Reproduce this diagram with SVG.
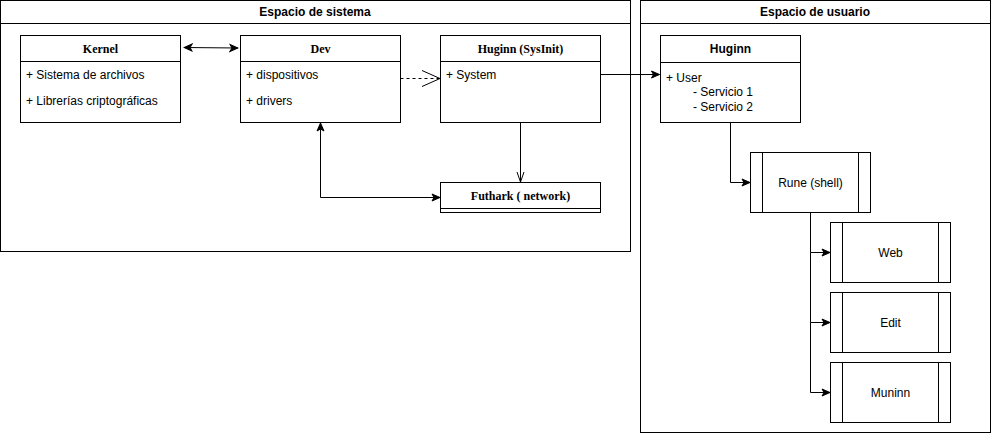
<svg xmlns="http://www.w3.org/2000/svg" width="991" height="433" viewBox="0 0 991 433">
<style>
.box{fill:#fff;stroke:#000;stroke-width:1}
.ln{fill:none;stroke:#000;stroke-width:1}
.t{font-family:"Liberation Sans",Arial,sans-serif;font-size:12px;fill:#000}
.b{font-weight:bold}
.s{font-family:"Liberation Serif","Times New Roman",serif;font-size:12px;font-weight:bold;fill:#000}
.c{text-anchor:middle}
.e{fill:none;stroke:#000;stroke-width:1}
</style>
<defs>
<marker id="ar" viewBox="0 0 10 10" refX="9" refY="5" markerWidth="10" markerHeight="10" markerUnits="userSpaceOnUse" orient="auto-start-reverse">
<path d="M1,1.5 L9,5 L1,8.5 L3,5 Z" fill="#000" stroke="#000" stroke-width="1"/>
</marker>
<marker id="open" viewBox="0 0 20 20" refX="19" refY="10" markerWidth="20" markerHeight="20" markerUnits="userSpaceOnUse" orient="auto">
<path d="M1,2 L19,10 L1,18" fill="none" stroke="#000" stroke-width="1"/>
</marker>
<marker id="vee" viewBox="0 0 12 12" refX="11" refY="6" markerWidth="12" markerHeight="12" markerUnits="userSpaceOnUse" orient="auto">
<path d="M1,2.5 L11,6 L1,9.5" fill="none" stroke="#000" stroke-width="1"/>
</marker>
</defs>

<g id="sistema">
<rect class="box" x="0.5" y="0.5" width="630" height="251"/>
<line class="ln" x1="0.5" y1="23.5" x2="630.5" y2="23.5"/>
<text class="t b c" x="315" y="16">Espacio de sistema</text>
</g>

<g id="usuario">
<rect class="box" x="640.5" y="0.5" width="350" height="432"/>
<line class="ln" x1="640.5" y1="23.5" x2="990.5" y2="23.5"/>
<text class="t b c" x="815" y="16">Espacio de usuario</text>
</g>

<g id="kernel">
<rect class="box" x="20.5" y="35.5" width="160" height="87"/>
<line class="ln" x1="20.5" y1="61.5" x2="180.5" y2="61.5"/>
<text class="s c" x="100.5" y="53">Kernel</text>
<text class="t" x="26" y="79">+ Sistema de archivos</text>
<text class="t" x="26" y="105">+ Librerías criptográficas</text>
</g>

<g id="dev">
<rect class="box" x="240.5" y="35.5" width="160" height="87"/>
<line class="ln" x1="240.5" y1="61.5" x2="400.5" y2="61.5"/>
<text class="s c" x="320.5" y="53">Dev</text>
<text class="t" x="246" y="79">+ dispositivos</text>
<text class="t" x="246" y="105">+ drivers</text>
</g>

<g id="huginn-sysinit">
<rect class="box" x="440.5" y="35.5" width="160" height="87"/>
<line class="ln" x1="440.5" y1="61.5" x2="600.5" y2="61.5"/>
<text class="s c" x="520.5" y="53">Huginn (SysInit)</text>
<text class="t" x="446" y="79">+ System</text>
</g>

<g id="futhark">
<rect class="box" x="440.5" y="182.5" width="160" height="30"/>
<line class="ln" x1="440.5" y1="208.5" x2="600.5" y2="208.5"/>
<text class="s c" x="520.5" y="200">Futhark ( network)</text>
</g>

<g id="huginn">
<rect class="box" x="660.5" y="35.5" width="140" height="87"/>
<line class="ln" x1="660.5" y1="62.5" x2="800.5" y2="62.5"/>
<text class="t b c" x="730.5" y="53">Huginn</text>
<text class="t" x="666" y="82">+ User</text>
<text class="t" x="693" y="96">- Servicio 1</text>
<text class="t" x="693" y="111">- Servicio 2</text>
</g>

<g id="rune">
<rect class="box" x="750.5" y="152.5" width="120" height="60"/>
<line class="ln" x1="762.5" y1="152.5" x2="762.5" y2="212.5"/>
<line class="ln" x1="858.5" y1="152.5" x2="858.5" y2="212.5"/>
<text class="t c" x="810.5" y="186.5">Rune (shell)</text>
</g>

<g id="web">
<rect class="box" x="830.5" y="222.5" width="120" height="60"/>
<line class="ln" x1="842.5" y1="222.5" x2="842.5" y2="282.5"/>
<line class="ln" x1="938.5" y1="222.5" x2="938.5" y2="282.5"/>
<text class="t c" x="890.5" y="256.5">Web</text>
</g>

<g id="edit">
<rect class="box" x="830.5" y="292.5" width="120" height="60"/>
<line class="ln" x1="842.5" y1="292.5" x2="842.5" y2="352.5"/>
<line class="ln" x1="938.5" y1="292.5" x2="938.5" y2="352.5"/>
<text class="t c" x="890.5" y="326.5">Edit</text>
</g>

<g id="muninn">
<rect class="box" x="830.5" y="362.5" width="120" height="60"/>
<line class="ln" x1="842.5" y1="362.5" x2="842.5" y2="422.5"/>
<line class="ln" x1="938.5" y1="362.5" x2="938.5" y2="422.5"/>
<text class="t c" x="890.5" y="396.5">Muninn</text>
</g>

<g id="connectors">
<path class="e" d="M184,47.5 L238,48" marker-start="url(#ar)" marker-end="url(#ar)"/>
<path class="e" d="M400.5,78.5 L440,78.5" stroke-dasharray="3,3" marker-end="url(#open)"/>
<path class="e" d="M600.5,74.5 L659.5,74.5" marker-end="url(#ar)"/>
<path class="e" d="M520.5,122.5 L520.5,182" marker-end="url(#vee)"/>
<path class="e" d="M320.5,123 L320.5,197.5 L440,197.5" marker-start="url(#ar)" marker-end="url(#ar)"/>
<path class="e" d="M730.5,122.5 L730.5,182.5 L750,182.5" marker-end="url(#ar)"/>
<path class="e" d="M810.5,212.5 L810.5,252.5 L830,252.5" marker-end="url(#ar)"/>
<path class="e" d="M810.5,252.5 L810.5,322.5 L830,322.5" marker-end="url(#ar)"/>
<path class="e" d="M810.5,322.5 L810.5,392.5 L830,392.5" marker-end="url(#ar)"/>
</g>
</svg>
